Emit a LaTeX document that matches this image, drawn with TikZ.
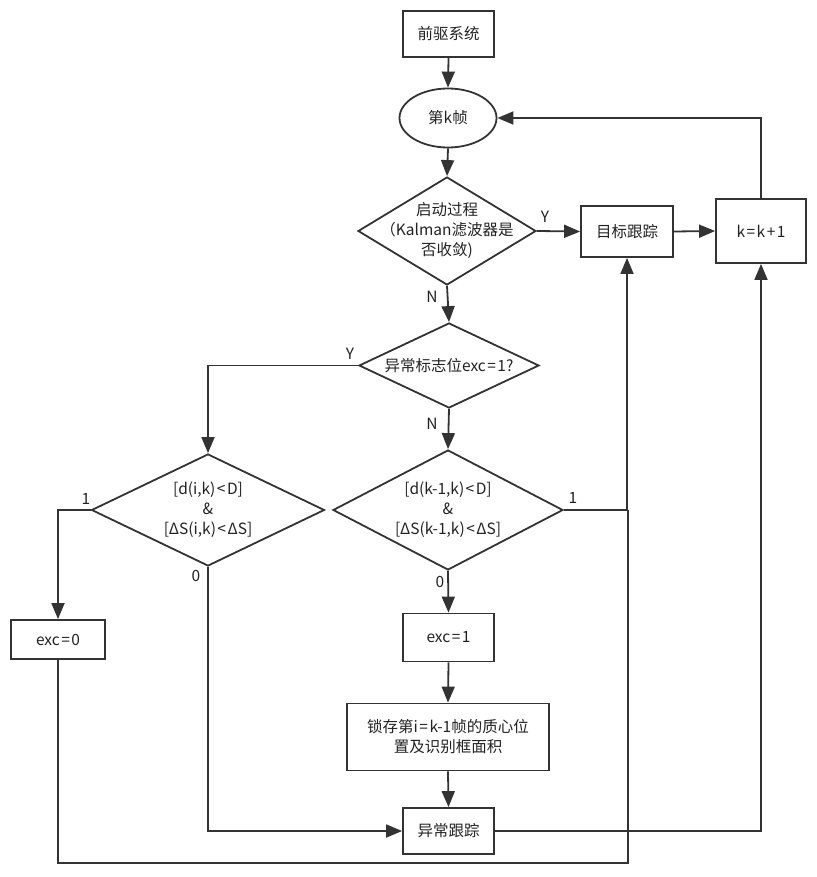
\documentclass[tikz,border=0pt]{standalone}
\usepackage{fontspec}
\setmainfont{Noto Sans CJK SC}
\usetikzlibrary{shapes.geometric,arrows.meta}
\definecolor{lc}{RGB}{51,51,51}
\definecolor{tc}{RGB}{34,34,34}
\newcommand{\opk}[1]{\kern1.5pt#1\kern1.5pt}
\begin{document}
\begin{tikzpicture}[x=1pt,y=-1pt,
  every node/.style={font=\fontsize{15.5}{20}\selectfont, text=tc},
  box/.style={draw=lc, line width=1.8pt, rectangle, inner sep=0pt, align=center},
  dia/.style={draw=lc, line width=1.8pt, diamond, inner sep=0pt, aspect=1},
  dtext/.style={align=center, font=\fontsize{15.5}{20}\selectfont, text=tc},
  conn/.style={draw=lc, line width=1.8pt},
  arr/.style={conn, -{Triangle[length=16pt,width=13pt]}},
  lab/.style={inner sep=0pt}
]
\useasboundingbox (0,0) rectangle (816,877);

\node[box, minimum width=91pt, minimum height=46pt] (pre) at (448.5,34) {前驱系统};
\node[draw=lc, line width=1.8pt, ellipse, inner sep=0pt, minimum width=97pt, minimum height=59pt] (frame) at (448,118) {第k帧};
\node[dia, minimum width=178pt, minimum height=108pt,
  label={[dtext]center:{启动过程\\（Kalman滤波器是\\否收敛)}}] (d1) at (447,231) {};
\node[box, minimum width=92pt, minimum height=51pt] (track) at (627,231.5) {目标跟踪};
\node[box, minimum width=90pt, minimum height=64pt] (kk) at (761,231) {k\opk{=}k\opk{+}1};
\node[dia, minimum width=180pt, minimum height=85pt,
  label={[dtext]center:{异常标志位exc\opk{=}1?}}] (d2) at (449,365.5) {};
\node[dia, minimum width=233pt, minimum height=112pt,
  label={[dtext]center:{{}[d(i,k)\opk{<}D]\\\&\\{}[ΔS(i,k)\opk{<}ΔS]}}] (d3) at (208,510) {};
\node[dia, minimum width=230pt, minimum height=120pt,
  label={[dtext]center:{{}[d(k-1,k)\opk{<}D]\\\&\\{}[ΔS(k-1,k)\opk{<}ΔS]}}] (d4) at (448,510) {};
\node[box, minimum width=94pt, minimum height=39pt] (exc0) at (58,639.5) {exc\opk{=}0};
\node[box, minimum width=91pt, minimum height=48pt] (exc1) at (448.5,637.5) {exc\opk{=}1};
\node[box, minimum width=202pt, minimum height=67pt] (latch) at (448,737) {锁存第i\opk{=}k-1帧的质心位\\置及识别框面积};
\node[box, minimum width=91pt, minimum height=46pt] (abn) at (448.5,831) {异常跟踪};

\coordinate (bot) at (628,863);
\coordinate (join) at (628,510);

\draw[arr] (pre.south) -- (frame.north);
\draw[arr] (frame.south) -- (d1.north);
\draw[arr] (d1.east) -- (track.west);
\draw[arr] (track.east) -- (kk.west);
\draw[arr] (kk.north) |- (frame.east);
\draw[arr] (d1.south) -- (d2.north);
\draw[arr] (d2.west) -| (d3.north);
\draw[arr] (d2.south) -- (d4.north);
\draw[arr] (d3.west) -| (exc0.north);
\draw[arr] (d3.south) |- (abn.west);
\draw[arr] (d4.east) -| (join) -- (join -| track.south) -- (track.south);
\draw[arr] (d4.south) -- (exc1.north);
\draw[arr] (exc1.south) -- (latch.north);
\draw[arr] (latch.south) -- (abn.north);
\draw[arr] (abn.east) -| (kk.south);
\draw[conn] (exc0.south) |- (bot) -- (join);

\node[lab] (lY1) at (545,217) {Y};
\node[lab] (lN1) at (432,297) {N};
\node[lab] (lY2) at (350,354) {Y};
\node[lab] (lN2) at (432,424) {N};
\node[lab] (l1a) at (86,499) {1};
\node[lab] (l0a) at (196,576) {0};
\node[lab] (l1b) at (573,498) {1};
\node[lab] (l0b) at (440,582) {0};
\end{tikzpicture}
\end{document}
